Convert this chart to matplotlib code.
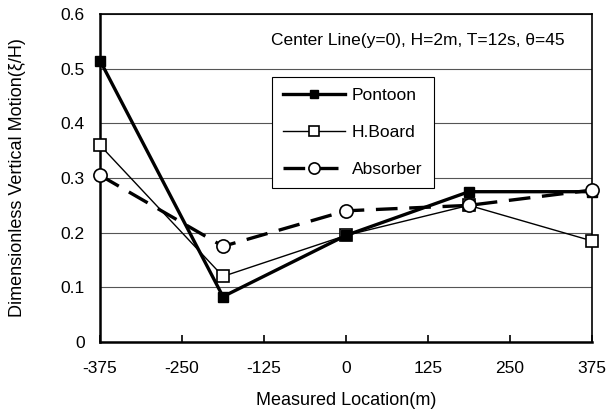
import matplotlib.pyplot as plt

plt.rcParams['font.family'] = ['Liberation Sans', 'DejaVu Sans']

# measured locations and normalised vertical motion
location = [-375, -187.5, 0, 187.5, 375]
pontoon = [0.515, 0.083, 0.195, 0.275, 0.275]
hboard = [0.36, 0.12, 0.195, 0.25, 0.185]
absorber = [0.305, 0.175, 0.24, 0.25, 0.278]

fig = plt.figure(figsize=(6.08, 4.15), dpi=100)
ax = fig.add_axes([0.1645, 0.176, 0.809, 0.79])

ax.plot(location, pontoon, color='black', lw=2.4, marker='s', ms=7.5,
        mfc='black', mec='black', label='Pontoon', clip_on=False, zorder=5)
ax.plot(location, hboard, color='black', lw=1.0, marker='s', ms=8.5,
        mfc='white', mec='black', mew=1.2, label='H.Board', clip_on=False, zorder=4)
ax.plot(location, absorber, color='black', lw=2.4, dashes=(6.5, 3.5), marker='o', ms=9.5,
        mfc='white', mec='black', mew=1.2, label='Absorber', clip_on=False, zorder=6)

ax.set_xlim(-375, 375)
ax.set_ylim(0, 0.6)
ax.set_xticks([-375, -250, -125, 0, 125, 250, 375])
ax.set_xticklabels(['-375', '-250', '-125', '0', '125', '250', '375'])
ax.set_yticks([0, 0.1, 0.2, 0.3, 0.4, 0.5, 0.6])
ax.set_yticklabels(['0', '0.1', '0.2', '0.3', '0.4', '0.5', '0.6'])
ax.tick_params(axis='x', direction='in', length=5, width=1.2, pad=14, labelsize=12.5)
ax.tick_params(axis='y', length=0, pad=11, labelsize=12.5)
ax.yaxis.grid(True, color='#555555', lw=0.8)
ax.set_axisbelow(True)
for s in ax.spines.values():
    s.set_linewidth(1.2)
ax.spines['left'].set_linewidth(1.8)
ax.spines['bottom'].set_linewidth(1.8)

ax.set_xlabel('Measured Location(m)', fontsize=13, labelpad=11)
ax.set_ylabel('Dimensionless Vertical Motion(ξ/H)', fontsize=13, labelpad=25)

ax.text(0.945, 0.918, 'Center Line(y=0), H=2m, T=12s, θ=45', transform=ax.transAxes,
        ha='right', va='center', fontsize=12.5)

leg = ax.legend(loc='upper left', bbox_to_anchor=(0.3496, 0.808), fontsize=12.5,
                frameon=True, fancybox=False, edgecolor='black', framealpha=1,
                handlelength=3.55, handletextpad=0.4, labelspacing=1.25,
                borderpad=0.65, borderaxespad=0, markerscale=0.85)
leg.get_frame().set_linewidth(0.8)

fig.savefig('out.png', dpi=100)
